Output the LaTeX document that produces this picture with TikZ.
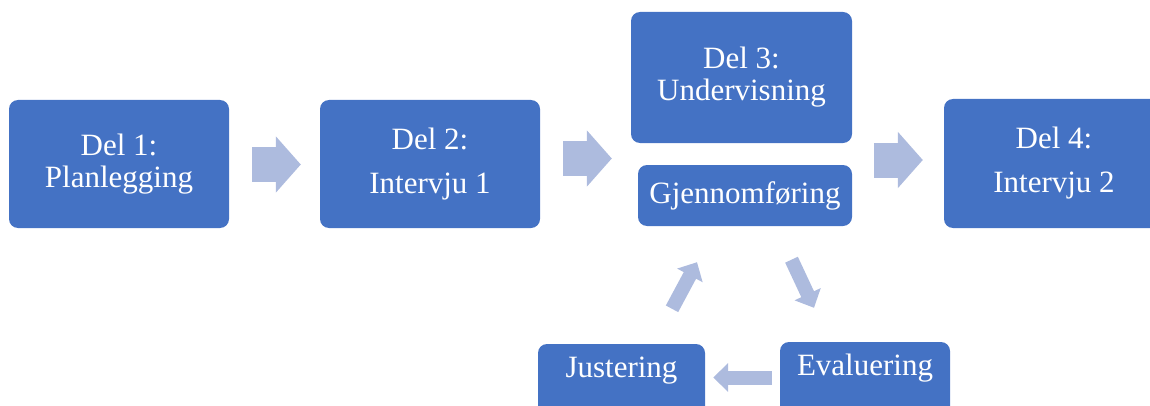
\documentclass[tikz,border=0pt]{standalone}
\usepackage{fontspec}
\setmainfont{Liberation Serif}
\usetikzlibrary{arrows.meta,calc}
\definecolor{boxblue}{HTML}{4472C4}
\definecolor{arrowblue}{RGB}{173,187,222}
\begin{document}
\begin{tikzpicture}[x=1pt,y=1pt,
  box/.style={draw=none,fill=boxblue,rounded corners=9pt,text=white,
    align=center,inner sep=0pt,font=\fontsize{31}{32}\selectfont},
  bigarrow/.style={draw=arrowblue,line width=35pt,
    -{Triangle[length=25pt,width=55pt]}},
  smallarrow/.style={draw=arrowblue,line width=14pt,
    -{Triangle[length=15pt,width=28pt]}}]
\useasboundingbox (0,0) rectangle (1150,405);
\clip (0,0) rectangle (1150,405);
\node[box,minimum width=220,minimum height=128] (b1) at (119,241) {Del 1:\\Planlegging};
\node[box,minimum width=220,minimum height=128] (b2) at (430,241) {Del 2:\\[12pt]Intervju 1};
\node[box,minimum width=221,minimum height=131] (b3) at (741.5,327.5) {Del 3:\\Undervisning};
\node[box,minimum width=214,minimum height=61] (g) at (745,209.5) {Gjennomføring};
\node[box,minimum width=220,minimum height=129] (b4) at (1054,241.5) {Del 4:\\[12pt]Intervju 2};
\node[box,minimum width=167,minimum height=81,text height=20pt,text depth=35pt] (j) at (621.5,20.5) {Justering};
\node[box,minimum width=170,minimum height=81,text height=20pt,text depth=35pt] (e) at (865,22.5) {Evaluering};
\draw[bigarrow] ([xshift=23,yshift=-0.5]b1.east) -- ([xshift=-19,yshift=-0.5]b2.west);
\draw[bigarrow] ([xshift=23,yshift=5.5]b2.east) -- ([xshift=-26,yshift=37]g.west);
\draw[bigarrow] ([xshift=-70,yshift=3.5]b4.west) -- ([xshift=-21,yshift=3.5]b4.west);
\draw[smallarrow] ([shift={(46.5,-33.5)}]g.south) -- ([shift={(-51,34)}]e.north);
\draw[smallarrow] ([shift={(-8,5)}]e.west) -- ([shift={(8,7)}]j.east);
\draw[smallarrow] ([shift={(50.5,35)}]j.north) -- ([shift={(-48,-36)}]g.south);
\end{tikzpicture}
\end{document}
